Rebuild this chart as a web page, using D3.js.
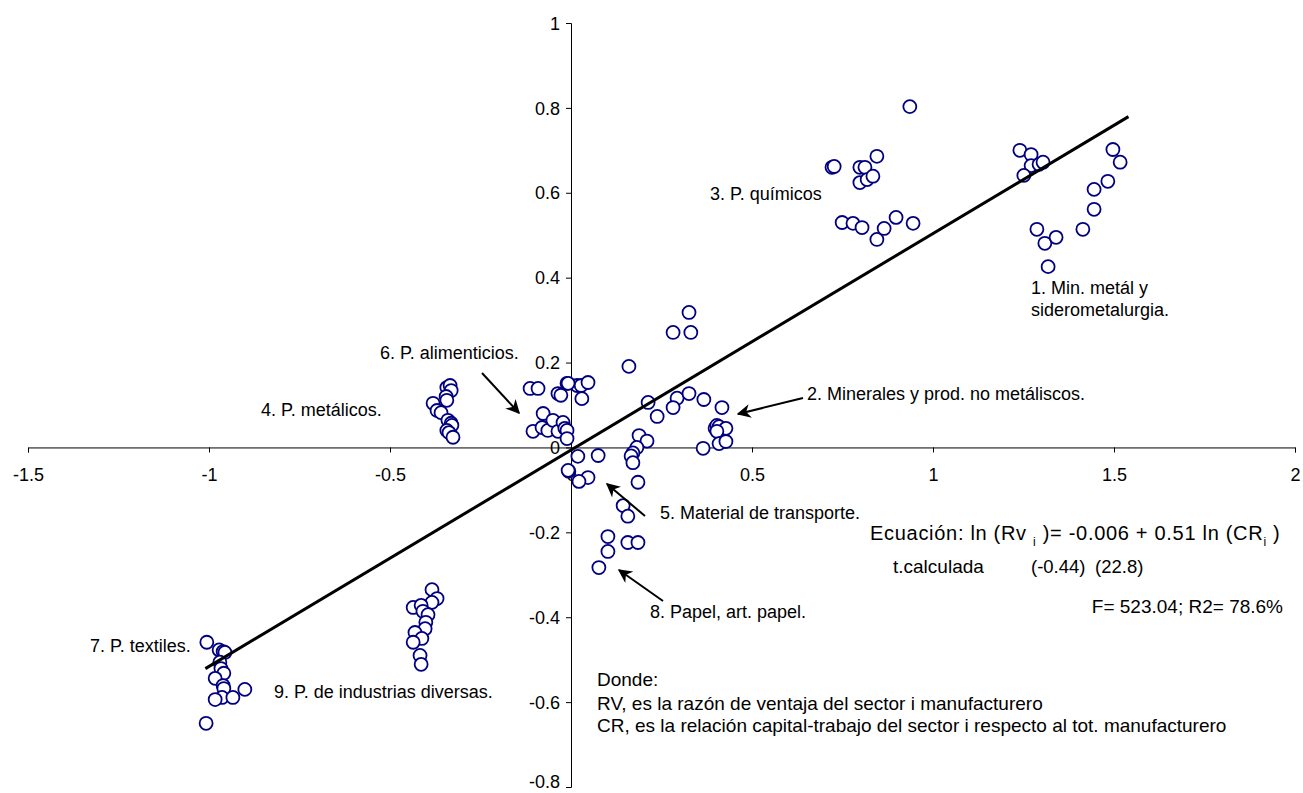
<!DOCTYPE html>
<html>
<head>
<meta charset="utf-8">
<script src="https://cdn.jsdelivr.net/npm/d3@7"></script>
<style>
  body { margin: 0; background: #fff; }
  svg text { font-family: "Liberation Sans", Arial, sans-serif; fill: #000; }
</style>
</head>
<body>
<svg id="chart" width="1303" height="793"></svg>
<script>
// ln(CR) on x, ln(RV) on y, one array per manufacturing sector
const minMetal = [[1.240, 0.700], [1.271, 0.690], [1.271, 0.664], [1.293, 0.667], [1.304, 0.672], [1.251, 0.641],
  [1.287, 0.514], [1.309, 0.481], [1.340, 0.495], [1.318, 0.426], [1.414, 0.514], [1.445, 0.561],
  [1.445, 0.608], [1.483, 0.627], [1.497, 0.702], [1.517, 0.672]]
const minerales = [[0.326, 0.318], [0.282, 0.271], [0.331, 0.271], [0.160, 0.191], [0.213, 0.106], [0.293, 0.116],
  [0.282, 0.094], [0.326, 0.127], [0.238, 0.073], [0.367, 0.113], [0.417, 0.094], [0.365, -0.002],
  [0.398, 0.045], [0.403, 0.052], [0.409, 0.049], [0.428, 0.045], [0.403, 0.038], [0.409, 0.009], [0.428, 0.014]]
const quimicos = [[0.936, 0.803], [0.721, 0.660], [0.727, 0.662], [0.798, 0.660], [0.812, 0.660], [0.845, 0.686],
  [0.798, 0.624], [0.818, 0.631], [0.834, 0.639], [0.749, 0.530], [0.779, 0.528], [0.804, 0.518],
  [0.845, 0.490], [0.865, 0.516], [0.898, 0.542], [0.945, 0.528]]
const metalicos = [[-0.343, 0.141], [-0.334, 0.146], [-0.331, 0.134], [-0.345, 0.120], [-0.343, 0.111], [-0.381, 0.104],
  [-0.370, 0.087], [-0.359, 0.082], [-0.340, 0.064], [-0.331, 0.057], [-0.329, 0.052], [-0.343, 0.040],
  [-0.337, 0.035], [-0.326, 0.024]]
const transporte = [[0.188, 0.028], [0.210, 0.015], [0.182, 0.000], [0.171, -0.013], [0.166, -0.020], [0.171, -0.036],
  [0.185, -0.082], [0.075, -0.019], [0.019, -0.021], [0.047, -0.071], [0.022, -0.080], [-0.006, -0.056], [-0.008, -0.054]]
const alimenticios = [[-0.113, 0.139], [-0.091, 0.139], [-0.011, 0.151], [-0.036, 0.127], [-0.028, 0.123], [0.017, 0.146],
  [0.028, 0.146], [0.047, 0.153], [0.030, 0.115], [-0.008, 0.151], [-0.077, 0.080], [-0.105, 0.038],
  [-0.080, 0.047], [-0.064, 0.040], [-0.050, 0.064], [-0.036, 0.038], [-0.022, 0.059], [-0.017, 0.045],
  [-0.011, 0.040], [-0.011, 0.021]]
const textiles = [[-1.006, -0.459], [-0.972, -0.477], [-0.961, -0.481], [-0.956, -0.483], [-0.970, -0.506], [-0.967, -0.521],
  [-0.959, -0.532], [-0.983, -0.544], [-0.961, -0.561], [-0.959, -0.568], [-0.964, -0.589], [-0.983, -0.594],
  [-0.934, -0.589], [-0.901, -0.570], [-1.008, -0.650]]
const papel = [[0.144, -0.137], [0.157, -0.162], [0.102, -0.210], [0.102, -0.245], [0.157, -0.224], [0.185, -0.224],
  [0.077, -0.283]]
const diversas = [[-0.384, -0.335], [-0.370, -0.356], [-0.384, -0.365], [-0.436, -0.377], [-0.414, -0.372], [-0.409, -0.386],
  [-0.395, -0.394], [-0.401, -0.412], [-0.403, -0.427], [-0.431, -0.436], [-0.412, -0.450], [-0.436, -0.459],
  [-0.417, -0.490], [-0.414, -0.511]]

const xTicks = [-1.5, -1, -0.5, 0, 0.5, 1, 1.5, 2]
const yTicks = [-0.8, -0.6, -0.4, -0.2, 0, 0.2, 0.4, 0.6, 0.8, 1]

// ln(RV) = a + b ln(CR)
const intercept = -0.006
const slope = 0.51
const fitRange = [-1.01, 1.54]

const svg = d3.select('#chart')

const x = d3.scaleLinear().domain([-1.5, 2]).range([28, 1295])
const y = d3.scaleLinear().domain([-0.8, 1]).range([787, 23])

svg.append('defs').append('marker')
  .attr('id', 'head')
  .attr('viewBox', '0 0 10 10')
  .attr('refX', 9)
  .attr('refY', 5)
  .attr('markerWidth', 7)
  .attr('markerHeight', 7)
  .attr('markerUnits', 'strokeWidth')
  .attr('orient', 'auto')
  .append('path')
  .attr('d', 'M0,0 L10,5 L0,10 L3,5 Z')
  .attr('fill', '#000')

// Ejes cruzados en el origen (guion normal en los negativos, como en el original)
const fmt = d => String(d)
const xAxis = svg.append('g')
  .attr('transform', `translate(0,${y(0)})`)
  .call(d3.axisBottom(x).tickValues(xTicks).tickSizeOuter(0).tickSize(5).tickFormat(fmt))
const yAxis = svg.append('g')
  .attr('transform', `translate(${x(0)},0)`)
  .call(d3.axisLeft(y).tickValues(yTicks).tickSizeOuter(0).tickSize(5).tickFormat(fmt))

for (const ax of [xAxis, yAxis]) {
  ax.select('.domain').attr('stroke', '#000').attr('stroke-width', 1)
  ax.selectAll('.tick line').attr('stroke', '#000')
  ax.selectAll('.tick text').style('font-size', '18px')
}
xAxis.selectAll('.tick text').attr('dy', '0').attr('y', 34)
yAxis.selectAll('.tick text').attr('x', -11).attr('dy', d => d === -0.8 ? '0.05em' : '0.34em')

const sectors = [minMetal, minerales, quimicos, metalicos, transporte, alimenticios, textiles, papel, diversas]

svg.append('g')
  .selectAll('circle')
  .data(sectors.flat())
  .join('circle')
  .attr('cx', d => x(d[0]))
  .attr('cy', d => y(d[1]))
  .attr('r', 6.5)
  .attr('fill', '#fff')
  .attr('stroke', '#000080')
  .attr('stroke-width', 1.8)

// Recta de regresión
svg.append('line')
  .attr('x1', x(fitRange[0]))
  .attr('y1', y(intercept + slope * fitRange[0]))
  .attr('x2', x(fitRange[1]))
  .attr('y2', y(intercept + slope * fitRange[1]))
  .attr('stroke', '#000')
  .attr('stroke-width', 3)

// Etiquetas de sectores
const labels = [
  { t: '1. Min. metál y', x: 1031, y: 294 },
  { t: 'siderometalurgia.', x: 1031, y: 316 },
  { t: '2. Minerales y prod. no metáliscos.', x: 807, y: 400 },
  { t: '3. P. químicos', x: 710, y: 200 },
  { t: '4. P. metálicos.', x: 261, y: 416 },
  { t: '5. Material de transporte.', x: 660, y: 519 },
  { t: '6. P. alimenticios.', x: 380, y: 359 },
  { t: '7. P. textiles.', x: 90, y: 652 },
  { t: '8. Papel, art. papel.', x: 650, y: 618 },
  { t: '9. P. de industrias diversas.', x: 274, y: 698 }
]
svg.append('g')
  .selectAll('text')
  .data(labels)
  .join('text')
  .attr('x', d => d.x)
  .attr('y', d => d.y)
  .style('font-size', '18px')
  .text(d => d.t)

const arrows = [
  [482, 373, 519, 413],
  [803, 398, 738, 414],
  [645, 516, 607, 484],
  [663, 601, 619, 570]
]
svg.append('g')
  .selectAll('line')
  .data(arrows)
  .join('line')
  .attr('x1', d => d[0])
  .attr('y1', d => d[1])
  .attr('x2', d => d[2])
  .attr('y2', d => d[3])
  .attr('stroke', '#000')
  .attr('stroke-width', 2)
  .attr('marker-end', 'url(#head)')

// Ecuación
const eq = svg.append('text')
  .attr('x', 870)
  .attr('y', 540)
  .style('font-size', '20px')
  .style('letter-spacing', '0.7px')
eq.append('tspan').text('Ecuación: ln (Rv ')
eq.append('tspan').text('i').attr('dy', 6).style('font-size', '12px')
eq.append('tspan').text(' )= -0.006 + 0.51 ln (CR').attr('dy', -6)
eq.append('tspan').text('i').attr('dy', 6).style('font-size', '12px')
eq.append('tspan').text(' )').attr('dy', -6)

svg.append('text').attr('x', 893).attr('y', 573).style('font-size', '19px').text('t.calculada')
svg.append('text').attr('x', 1031).attr('y', 573).style('font-size', '18.5px').text('(-0.44)')
svg.append('text').attr('x', 1095).attr('y', 573).style('font-size', '18.5px').text('(22.8)')
svg.append('text').attr('x', 1283).attr('y', 613).attr('text-anchor', 'end').style('font-size', '19px').text('F= 523.04; R2= 78.6%')

const notes = [
  { t: 'Donde:', y: 686 },
  { t: 'RV, es la razón de ventaja del sector i manufacturero', y: 710 },
  { t: 'CR, es la relación capital-trabajo del sector i respecto al tot. manufacturero', y: 732 }
]
svg.append('g')
  .selectAll('text')
  .data(notes)
  .join('text')
  .attr('x', 597)
  .attr('y', d => d.y)
  .style('font-size', '19px')
  .text(d => d.t)
</script>
</body>
</html>
